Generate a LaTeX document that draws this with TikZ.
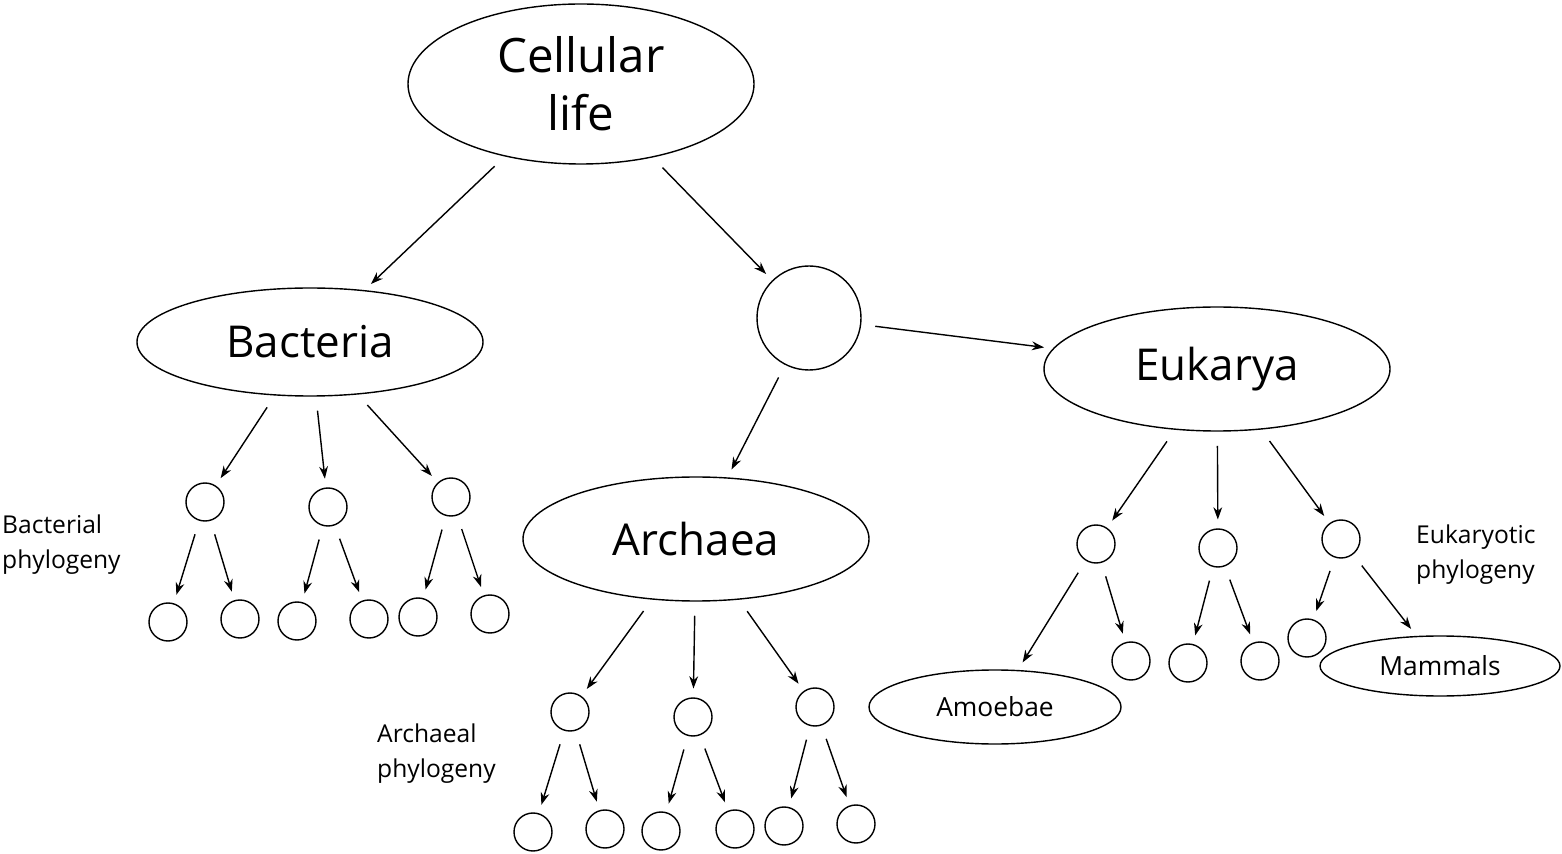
\documentclass[tikz,border=0pt]{standalone}
\usepackage{fontspec}
\setmainfont{Open Sans}
\usetikzlibrary{arrows.meta,shapes.geometric}
\begin{document}
\begin{tikzpicture}[x=0.02cm,y=-0.02cm,
  el/.style={draw,line width=0.8pt,ellipse,inner sep=0pt},
  sc/.style={draw,line width=0.8pt,circle,minimum size=38*0.02cm,inner sep=0pt},
  ar/.style={-{Stealth[length=7pt,width=5pt]},line width=0.8pt,shorten <=8pt,shorten >=5pt},
  lab/.style={font=\fontsize{14pt}{20pt}\selectfont,align=left,anchor=west}]
\useasboundingbox (0,0) rectangle (1562,854);
\node[el,minimum width=346*0.02cm,minimum height=160*0.02cm,align=center,font=\fontsize{27pt}{33pt}\selectfont] (cl) at (581,84) {Cellular\\life};
\node[el,minimum width=346*0.02cm,minimum height=108*0.02cm,font=\fontsize{25pt}{30pt}\selectfont] (ba) at (310,342) {Bacteria};
\node[draw,line width=0.8pt,circle,minimum size=104*0.02cm] (mid) at (809,318) {};
\node[el,minimum width=346*0.02cm,minimum height=124*0.02cm,font=\fontsize{25pt}{30pt}\selectfont] (eu) at (1217,369) {Eukarya};
\node[el,minimum width=346*0.02cm,minimum height=124*0.02cm,font=\fontsize{25pt}{30pt}\selectfont] (arc) at (696,539) {Archaea};
\node[el,minimum width=252*0.02cm,minimum height=74*0.02cm,font=\fontsize{15pt}{18pt}\selectfont] (amo) at (995,707) {Amoebae};
\node[el,minimum width=240*0.02cm,minimum height=60*0.02cm,font=\fontsize{15pt}{18pt}\selectfont] (mam) at (1440,666) {Mammals};
% bacteria subtree
\node[sc] (b1) at (205,502) {}; \node[sc] (b2) at (328,507) {}; \node[sc] (b3) at (451,497) {};
\node[sc] (b11) at (168,622) {}; \node[sc] (b12) at (240,619) {};
\node[sc] (b21) at (297,621) {}; \node[sc] (b22) at (369,619) {};
\node[sc] (b31) at (418,617) {}; \node[sc] (b32) at (490,614) {};
% archaea subtree
\node[sc] (a1) at (570,712) {}; \node[sc] (a2) at (693,717) {}; \node[sc] (a3) at (815,707) {};
\node[sc] (a11) at (533,832) {}; \node[sc] (a12) at (605,829) {};
\node[sc] (a21) at (661,831) {}; \node[sc] (a22) at (735,829) {};
\node[sc] (a31) at (784,826) {}; \node[sc] (a32) at (856,824) {};
% eukarya subtree
\node[sc] (e1) at (1096,544) {}; \node[sc] (e2) at (1218,548) {}; \node[sc] (e3) at (1341,539) {};
\node[sc] (e12) at (1131,661) {};
\node[sc] (e21) at (1188,663) {}; \node[sc] (e22) at (1260,661) {};
\node[sc] (e31) at (1307,638) {};
% labels
\node[lab] (lb) at (-4,545) {Bacterial\\phylogeny};
\node[lab] (la) at (371,754) {Archaeal\\phylogeny};
\node[lab] (le) at (1410,555) {Eukaryotic\\phylogeny};
% arrows
\draw[ar] (cl) -- (ba);
\draw[ar] (cl) -- (mid);
\draw[ar] (mid) -- (eu);
\draw[ar] (mid) -- (arc);
\foreach \p/\c in {ba/b1,ba/b2,ba/b3,b1/b11,b1/b12,b2/b21,b2/b22,b3/b31,b3/b32,
  arc/a1,arc/a2,arc/a3,a1/a11,a1/a12,a2/a21,a2/a22,a3/a31,a3/a32,
  eu/e1,eu/e2,eu/e3,e1/amo,e1/e12,e2/e21,e2/e22,e3/e31,e3/mam}
  \draw[ar] (\p) -- (\c);
\end{tikzpicture}
\end{document}
